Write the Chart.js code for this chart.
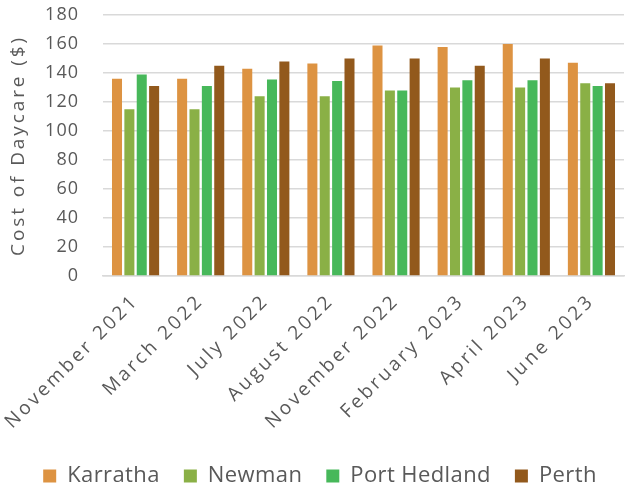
<!DOCTYPE html>
<html>
<head>
<meta charset="utf-8">
<script src="https://cdn.jsdelivr.net/npm/chart.js@4.4.1/dist/chart.umd.min.js"></script>
<style>
  html, body { margin: 0; padding: 0; background: #fff; overflow: hidden; }
  #wrap { width: 628px; height: 487px; overflow: hidden; }
</style>
</head>
<body>
<div id="wrap"><canvas id="barChart" width="628" height="497"></canvas></div>
<script>
// Data
const months = ['November 2021', 'March 2022', 'July 2022', 'August 2022',
                'November 2022', 'February 2023', 'April 2023', 'June 2023'];
const karratha    = [136, 136, 143, 146.5, 159, 158, 160, 147];
const newman      = [115, 115, 124, 124, 128, 130, 130, 133];
const portHedland = [139, 131, 135.5, 134.5, 128, 135, 135, 131];
const perth       = [131, 145, 148, 150, 150, 145, 150, 133];

const textGrey = '#595959';
const fontFamily = "'Open Sans', 'DejaVu Sans', sans-serif";

const ctxBar = document.getElementById('barChart').getContext('2d');

// The original uses Raleway (wide letters). Add tracking per font size
// so label lengths come out close: 18px = y ticks, 19px = x ticks / title, 22px = legend
const trackBySize = { 18: '1px', 19: '2.9px', 22: '0.4px' };
const fontProp = Object.getOwnPropertyDescriptor(CanvasRenderingContext2D.prototype, 'font');
Object.defineProperty(ctxBar, 'font', {
    get() { return fontProp.get.call(this); },
    set(v) {
        fontProp.set.call(this, v);
        const m = /(\d+(?:\.\d+)?)px/.exec(v);
        this.letterSpacing = (m && trackBySize[m[1]]) || '0px';
    }
});

const barChart = new Chart(ctxBar, {
    type: 'bar',
    data: {
        labels: months,
        datasets: [
            { label: 'Karratha', data: karratha, backgroundColor: '#DD9342' },
            { label: 'Newman', data: newman, backgroundColor: '#8AB046' },
            { label: 'Port Hedland', data: portHedland, backgroundColor: '#47B85A' },
            { label: 'Perth', data: perth, backgroundColor: '#92591C' }
        ]
    },
    options: {
        responsive: false,
        animation: false,
        categoryPercentage: 0.76,
        barPercentage: 0.81,
        // left padding keeps the legend centred where the original has it
        layout: { padding: { top: 15, right: 4, left: 16, bottom: 0 } },
        plugins: {
            legend: {
                position: 'bottom',
                labels: {
                    color: textGrey,
                    font: { family: fontFamily, size: 22 },
                    boxWidth: 13,
                    boxHeight: 13,
                    padding: 24
                }
            },
            tooltip: { enabled: false }
        },
        scales: {
            x: {
                grid: { display: false },
                border: { color: '#d9d9d9', width: 1.5 },
                ticks: {
                    color: textGrey,
                    font: { family: fontFamily, size: 19 },
                    minRotation: 45,
                    maxRotation: 45,
                    padding: 6
                },
                afterFit(scale) {
                    // rotated labels may hang left past the y axis, like the original
                    scale.paddingLeft = 0;
                    scale.paddingRight = 0;
                    scale.height = 165;
                }
            },
            y: {
                min: 0,
                max: 180,
                grid: { color: '#d9d9d9', lineWidth: 1.5, drawTicks: false },
                border: { display: false },
                ticks: {
                    stepSize: 20,
                    color: textGrey,
                    font: { family: fontFamily, size: 18 },
                    padding: 24
                },
                title: {
                    display: true,
                    text: 'Cost of Daycare ($)',
                    color: textGrey,
                    font: { family: fontFamily, size: 19 },
                    padding: { top: -9, bottom: 0 }
                },
                afterFit(scale) {
                    scale.width = 87;
                    scale.paddingTop = 0;
                    scale.paddingBottom = 0;
                }
            }
        }
    }
});
</script>
</body>
</html>
